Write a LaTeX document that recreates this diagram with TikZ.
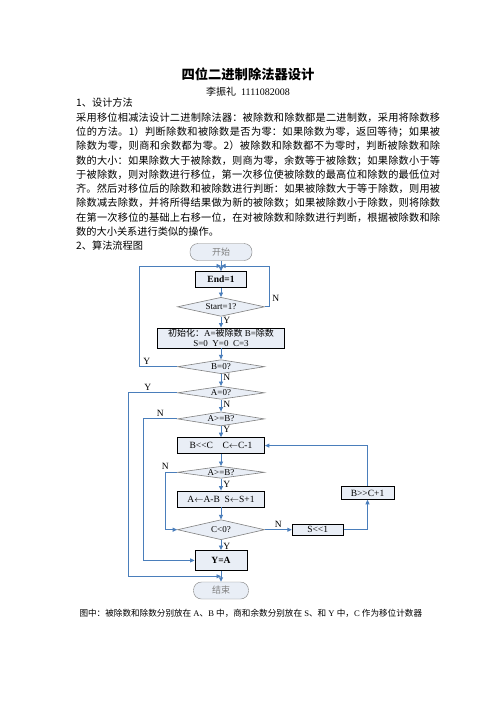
\documentclass[tikz,border=0pt]{standalone}
\usepackage{fontspec}
\setmainfont{Liberation Serif}
\newfontfamily\cjk{Noto Sans CJK SC}
\definecolor{flowblue}{HTML}{4A7EBB}
\definecolor{boxfill}{HTML}{E9EEF6}
\definecolor{edgegray}{HTML}{808080}
\usetikzlibrary{
    arrows.meta,
    shapes.geometric,
    positioning,
    calc
}
\XeTeXlinebreaklocale "zh"
\XeTeXlinebreakskip=0pt plus 1pt
\tikzstyle{terminal} = [
    rectangle,
    rounded corners=8pt,
    draw=edgegray,
    fill=boxfill,
    minimum width=62pt,
    minimum height=17pt,
    inner sep=0pt,
    text=edgegray,
    font=\cjk\fontsize{9}{10}\selectfont
]
\tikzstyle{procbox} = [
    rectangle,
    draw=black,
    line width=0.8pt,
    fill=boxfill,
    minimum width=87pt,
    minimum height=16pt,
    inner sep=0pt,
    align=center,
    font=\fontsize{9.5}{10}\selectfont
]
\tikzstyle{decision} = [
    diamond,
    draw=edgegray,
    line width=0.6pt,
    fill=boxfill,
    shape aspect=5.5,
    inner sep=0pt,
    minimum width=87pt,
    minimum height=14pt,
    font=\fontsize{9}{10}\selectfont
]
\tikzstyle{arrow} = [
    -{Triangle[length=4.5pt,width=4pt]},
    line width=0.9pt,
    draw=flowblue
]
\tikzstyle{lbl} = [
    font=\fontsize{9.5}{10}\selectfont,
    inner sep=2pt
]
\begin{document}
\begin{tikzpicture}[x=1pt, y=-1pt]
    % Page
    \path[use as bounding box, fill=white] (0,0) rectangle (496,702);

    % Heading and text
    \node[font=\cjk\bfseries\fontsize{13.3}{15}\selectfont] (title) at (248,74) {四位二进制除法器设计};
    \node[font=\fontsize{10}{12}\selectfont] (author) at (248,92) {{\cjk 李振礼}\ \ 1111082008};
    \node[anchor=north west, inner sep=0pt, text width=364pt, align=justify,
          font=\cjk\fontsize{10.2}{14.3}\selectfont] (body) at (76,98) {1、设计方法\\
        采用移位相减法设计二进制除法器：被除数和除数都是二进制数，采用将除数移\linebreak
        位的方法。1）判断除数和被除数是否为零：如果除数为零，返回等待；如果被\linebreak
        除数为零，则商和余数都为零。2）被除数和除数都不为零时，判断被除数和除\linebreak
        数的大小：如果除数大于被除数，则商为零，余数等于被除数；如果除数小于等\linebreak
        于被除数，则对除数进行移位，第一次移位使被除数的最高位和除数的最低位对\linebreak
        齐。然后对移位后的除数和被除数进行判断：如果被除数大于等于除数，则用被\linebreak
        除数减去除数，并将所得结果做为新的被除数；如果被除数小于除数，则将除数\linebreak
        在第一次移位的基础上右移一位，在对被除数和除数进行判断，根据被除数和除\linebreak
        数的大小关系进行类似的操作。\\
        2、算法流程图};

    % Flow chart
    \node[terminal] (start) at (221,252) {开始};
    \node[procbox, minimum width=51pt, font=\bfseries\fontsize{9.5}{10}\selectfont] (end1) [below=10.5pt of start] {End=1};
    \node[decision, minimum height=19pt] (qstart) [below=9pt of end1] {Start=1?};
    \node[procbox, minimum width=127pt, minimum height=20pt, font=\fontsize{9}{10}\selectfont] (init) [below=11pt of qstart]
        {{\cjk 初始化：}A={\cjk 被除数} B={\cjk 除数}\\S=0\ \ Y=0\ \ C=3};
    \node[decision] (qb) [below=11pt of init] {B=0?};
    \node[decision, minimum height=13pt] (qa) [below=12pt of qb] {A=0?};
    \node[decision] (qab) [below=12pt of qa] {A>=B?};
    \node[procbox] (shift) [below=11pt of qab] {B<{}<C\quad C$\leftarrow$C-1};
    \node[decision, minimum height=12pt] (qab2) [below=12pt of shift] {A>=B?};
    \node[procbox] (sub) [below=12pt of qab2] {A$\leftarrow$A-B\ \ S$\leftarrow$S+1};
    \node[decision, minimum height=20pt] (qc) [below=12pt of sub] {C<0?};
    \node[procbox, minimum width=52pt, minimum height=20pt, font=\bfseries\fontsize{9.5}{10}\selectfont] (ya) [below=10pt of qc] {Y=A};
    \node[terminal, minimum width=55pt] (stop) [below=11pt of ya] {结束};
    \node[procbox, minimum width=51pt, minimum height=11pt] (sl) [right=27pt of qc] {S<{}<1};
    \node[procbox, minimum width=53pt, minimum height=13pt] (bsr) [above right=24pt and -3pt of sl] {B>{}>C+1};

    % Junctions
    \coordinate (jtop) at ($(start.south)!0.5!(end1.north)$);
    \coordinate (jbot) at ($(ya.south)!0.5!(stop.north)$);

    % Arrows
    \draw[arrow] (start) -- (end1);
    \draw[arrow] (end1) -- (qstart);
    \draw[arrow] (qstart.east) -- ++(5,0) |- node[lbl, right, pos=0.1] {N} (jtop);
    \draw[arrow] (qstart) -- node[lbl, right, pos=0.3] {Y} (init);
    \draw[arrow] (init) -- (qb);
    \draw[arrow] (qb.west) -- node[lbl, above, pos=0.8] {Y} ++(-38,0) |- (jtop);
    \draw[arrow] (qb) -- node[lbl, right, pos=0.3] {N} (qa);
    \draw[arrow] (qa.west) -- node[lbl, above, pos=0.6] {Y} ++(-49,0) |- (jbot);
    \draw[arrow] (qa) -- node[lbl, right, pos=0.4] {N} (qab);
    \draw[arrow] (qab.west) -- node[lbl, above, pos=0.5] {N} ++(-34,0) |- (ya.west);
    \draw[arrow] (qab) -- node[lbl, right, pos=0.3] {Y} (shift);
    \draw[arrow] (shift) -- (qab2);
    \draw[arrow] (qab2.west) -- node[lbl, above, pos=1] {N} ++(-12,0) |- (qc.west);
    \draw[arrow] (qab2) -- node[lbl, right, pos=0.5] {Y} (sub);
    \draw[arrow] (sub) -- (qc);
    \draw[arrow] (qc) -- node[lbl, right, pos=0.6] {Y} (ya);
    \draw[arrow] (qc.east) -- node[lbl, above] {N} (sl.west);
    \draw[arrow] (sl.east) -| (bsr.south);
    \draw[arrow] (bsr.north) |- (shift.east);
    \draw[arrow] (ya) -- (stop);

    % Note
    \node[anchor=west, font=\fontsize{8.6}{10}\selectfont] (note) at (76,613)
        {{\cjk 图中：被除数和除数分别放在} A{\cjk 、}B {\cjk 中，商和余数分别放在} S{\cjk 、和} Y {\cjk 中，}C {\cjk 作为移位计数器}};
\end{tikzpicture}
\end{document}
